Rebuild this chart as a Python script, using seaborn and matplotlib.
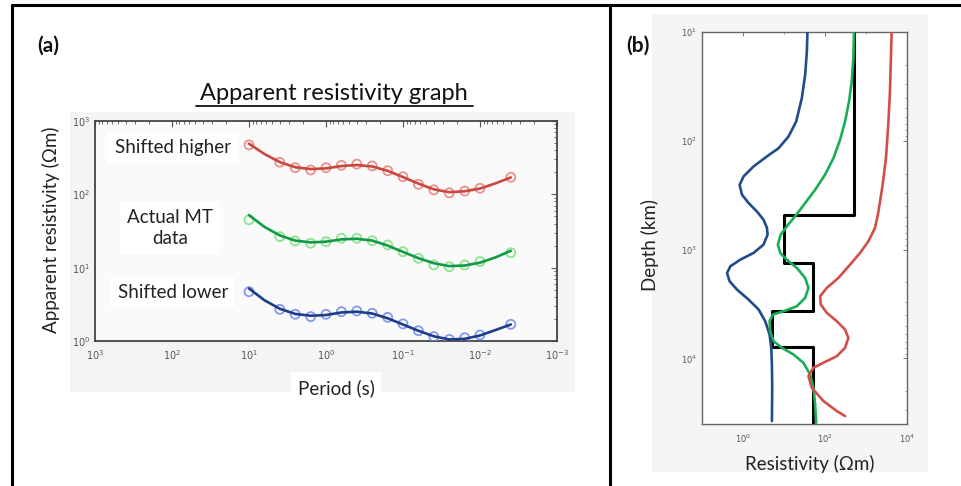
import numpy as np
import pandas as pd
import matplotlib
matplotlib.use("Agg")
import matplotlib.pyplot as plt
import seaborn as sns
from matplotlib.patches import Rectangle
from matplotlib.lines import Line2D
from matplotlib.ticker import LogLocator, NullFormatter

# ---------------- data: panel (a) apparent resistivity ----------------
period_obs = [10, 3.98, 2.51, 1.58, 1.0, 0.631, 0.398, 0.251, 0.158, 0.1,
              0.0631, 0.0398, 0.0251, 0.0158, 0.01, 0.00398]
rho_high_obs = [472, 274, 231, 215, 231, 249, 258, 244, 210, 174, 137, 115, 105, 111, 121, 171]
rho_actual_obs = [45, 26.5, 23.1, 21.5, 22.6, 25.2, 25.2, 23.3, 20.4, 16.5, 13.4, 10.9, 10.3, 10.9, 12.1, 16.0]
rho_low_obs = [4.7, 2.7, 2.31, 2.15, 2.31, 2.51, 2.57, 2.39, 2.1, 1.71, 1.38, 1.15, 1.05, 1.11, 1.21, 1.69]

period_fit = [10, 6.31, 3.98, 2.51, 1.58, 1.0, 0.631, 0.398, 0.251, 0.158, 0.1,
              0.0631, 0.0398, 0.0251, 0.0158, 0.01, 0.00631, 0.00398]
rho_high_fit = [490, 355, 275, 234, 221, 226, 243, 251, 240, 209, 172, 140, 117, 107, 110, 120, 141, 170]
rho_actual_fit = [52, 36, 27.5, 23.4, 22.1, 22.6, 24.3, 24.8, 23.4, 20, 16.4, 13.5, 11.5, 10.5, 10.7, 11.7, 13.8, 17]
rho_low_fit = [5.2, 3.6, 2.75, 2.34, 2.21, 2.26, 2.45, 2.51, 2.37, 2.04, 1.68, 1.38, 1.16, 1.05, 1.07, 1.19, 1.41, 1.68]

series_labels = ["Shifted higher", "Actual MT\ndata", "Shifted lower"]

# ---------------- data: panel (b) resistivity vs depth ----------------
model_res = [500, 10, 50, 5, 50]
model_top = [10, 480, 1320, 3700, 7900]
model_bottom = 40000

blue_depth = [10, 15.1, 24.8, 40.6, 66.5, 91.2, 117, 139, 172, 212, 254, 313, 373, 446, 531,
              631, 728, 899, 1072, 1236, 1422, 1637, 1954, 2328, 2877, 3548, 4550, 6026,
              7980, 11350, 18580, 37580]
blue_res = [37.3, 36.1, 32.8, 27.2, 19.8, 12.9, 7.36, 3.84, 1.81, 1.035, 0.826, 0.946, 1.37,
            2.19, 3.16, 3.84, 3.98, 3.16, 1.81, 0.859, 0.491, 0.408, 0.472, 0.714, 1.37, 2.40,
            3.49, 4.45, 4.89, 5.07, 5.16, 5.07]

green_depth = [10, 17.4, 28.6, 43.6, 66.5, 97.9, 145, 205, 282, 373, 478, 590, 728, 899, 1072,
               1236, 1472, 1820, 2244, 2773, 3311, 3681, 3945, 4550, 5623, 6934, 7980, 9183,
               10960, 14030, 18580, 26420, 38900]
green_res = [511, 491, 449, 385, 308, 233, 160, 100, 57.4, 32.8, 20, 12.6, 8.3, 7.1, 8.1, 11.7,
             20.6, 32.8, 39.5, 32.8, 20.6, 9.7, 5.37, 4.45, 4.61, 5.56, 8.89, 17.0, 29.8, 43.4,
             52.2, 57.4, 60.7]

red_depth = [10, 17.4, 35.3, 71.3, 144, 254, 386, 478, 632, 839, 1072, 1374, 1820, 2244, 2679,
             3199, 3811, 4550, 5420, 6471, 7980, 9528, 10940, 12160, 14520, 18580, 24600,
             30410, 33810]
red_res = [4217, 4055, 3837, 3491, 3069, 2547, 2138, 1950, 1656, 1140, 716, 408, 212, 111, 76,
           79, 111, 194, 308, 371, 308, 194, 91.4, 52.2, 39.5, 47.6, 91.4, 194, 308]

# ---------------- styling ----------------
sns.set_theme(style="white")
plt.rcParams["font.family"] = ["DejaVu Sans"]
LABEL_FONT = ["Lato", "DejaVu Sans"]

W, H = 961, 486
fig = plt.figure(figsize=(W / 100, H / 100), dpi=100)
fig.patch.set_facecolor("white")


def fx(x):
    return x / W


def fy(y):
    return 1 - y / H


# pasted-image backdrops (behind the axes)
fig.add_artist(Rectangle((fx(70), fy(392)), (575 - 70) / W, (392 - 112) / H,
                         transform=fig.transFigure, fc="#f4f4f4", ec="none", zorder=-5))
fig.add_artist(Rectangle((fx(652), fy(472)), (928 - 652) / W, (472 - 14) / H,
                         transform=fig.transFigure, fc="#f5f5f5", ec="none", zorder=-5))

# frame lines
for (x0, y0, x1, y1) in [(12, 5, 961, 5), (12, 5, 12, 486), (610, 5, 610, 486)]:
    fig.add_artist(Line2D([fx(x0), fx(x1)], [fy(y0), fy(y1)], transform=fig.transFigure,
                          color="black", lw=2.2, zorder=10))

# ---------------- panel (a) ----------------
axa = fig.add_axes([fx(95), fy(341), (557 - 95) / W, (341 - 121) / H])
axa.set_zorder(1)
axa.set_facecolor("#fafafa")

obs = pd.DataFrame({
    "period": period_obs * 3,
    "rho": rho_high_obs + rho_actual_obs + rho_low_obs,
    "series": ["high"] * len(period_obs) + ["actual"] * len(period_obs) + ["low"] * len(period_obs),
})
fit = pd.DataFrame({
    "period": period_fit * 3,
    "rho": rho_high_fit + rho_actual_fit + rho_low_fit,
    "series": ["high"] * len(period_fit) + ["actual"] * len(period_fit) + ["low"] * len(period_fit),
})
marker_pal = {"high": "#ea7f79", "actual": "#7ce07c", "low": "#7088ef"}
line_pal = {"high": "#c9473f", "actual": "#109a45", "low": "#1d3d88"}

sns.scatterplot(data=obs, x="period", y="rho", hue="series", palette=marker_pal, ax=axa,
                s=42, marker="o", linewidth=1.3, alpha=0.85, legend=False, zorder=3)
coll = axa.collections[-1]
coll.set_edgecolors(coll.get_facecolors())
coll.set_facecolors("none")

sns.lineplot(data=fit, x="period", y="rho", hue="series", palette=line_pal, ax=axa,
             lw=1.9, legend=False, estimator=None, sort=False, zorder=4)

axa.set_xscale("log")
axa.set_yscale("log")
axa.set_xlim(1e3, 1e-3)
axa.set_ylim(1, 1e3)
axa.set_xlabel("")
axa.set_ylabel("")
axa.xaxis.set_major_locator(LogLocator(base=10, numticks=10))
axa.yaxis.set_major_locator(LogLocator(base=10, numticks=10))
axa.xaxis.set_minor_locator(LogLocator(base=10, subs=np.arange(2, 10), numticks=20))
axa.yaxis.set_minor_locator(LogLocator(base=10, subs=np.arange(2, 10), numticks=20))
axa.xaxis.set_minor_formatter(NullFormatter())
axa.yaxis.set_minor_formatter(NullFormatter())
axa.tick_params(which="both", direction="in", top=True, right=True, colors="#555555",
                labelsize=7, labelcolor="#555555")
axa.tick_params(which="major", length=4, width=0.8)
axa.tick_params(which="minor", length=2, width=0.6)
axa.tick_params(axis="x", pad=5)
for sp in axa.spines.values():
    sp.set_color("#444444")
    sp.set_linewidth(1.3)

# text boxes in panel (a)
box = dict(fc="white", ec="none", pad=5)
fig.text(fx(173), fy(148), series_labels[0], ha="center", va="center", fontsize=13.5,
         family=LABEL_FONT, color="#222222", bbox=box, zorder=6)
fig.text(fx(170), fy(228), series_labels[1], ha="center", va="center", fontsize=13.5,
         family=LABEL_FONT, color="#222222", linespacing=1.35, bbox=box, zorder=6)
fig.text(fx(173), fy(292), series_labels[2], ha="center", va="center", fontsize=13.5,
         family=LABEL_FONT, color="#222222", bbox=box, zorder=6)

fig.text(fx(334), fy(94), "Apparent resistivity graph", ha="center", va="center",
         fontsize=17, family=LABEL_FONT, color="#111111", zorder=6)
fig.add_artist(Line2D([fx(196), fx(473)], [fy(106), fy(106)], transform=fig.transFigure,
                      color="#111111", lw=1.3, zorder=7))
fig.text(fx(51), fy(230), "Apparent resistivity (\u03a9m)", ha="center", va="center",
         rotation=90, fontsize=13.5, family=LABEL_FONT, color="#222222",
         bbox=dict(fc="white", ec="none", pad=2), zorder=6)
fig.text(fx(336), fy(388), "Period (s)", ha="center", va="center", fontsize=13.5,
         family=LABEL_FONT, color="#222222", bbox=dict(fc="white", ec="none", pad=5), zorder=6)
fig.text(fx(48), fy(46), "(a)", ha="center", va="center", fontsize=15, fontweight="bold",
         family=LABEL_FONT, color="#111111", zorder=6)

# ---------------- panel (b) ----------------
axb = fig.add_axes([fx(702), fy(424), (907 - 702) / W, (424 - 32) / H])
axb.set_zorder(1)
axb.set_facecolor("white")

mx, my = [], []
for i, r in enumerate(model_res):
    top = model_top[i]
    bot = model_top[i + 1] if i + 1 < len(model_top) else model_bottom
    mx += [r, r]
    my += [top, bot]
model_df = pd.DataFrame({"res": mx, "depth": my})
sns.lineplot(data=model_df, x="res", y="depth", sort=False, estimator=None, ax=axb,
             color="black", lw=2.2, zorder=3)

prof = pd.DataFrame({
    "res": blue_res + green_res + red_res,
    "depth": blue_depth + green_depth + red_depth,
    "model": ["blue"] * len(blue_res) + ["green"] * len(green_res) + ["red"] * len(red_res),
})
sns.lineplot(data=prof, x="res", y="depth", hue="model",
             palette={"blue": "#1f4c8c", "green": "#19ad55", "red": "#d24f48"},
             sort=False, estimator=None, ax=axb, lw=1.9, legend=False, zorder=4)

axb.set_xscale("log")
axb.set_yscale("log")
axb.set_xlim(0.1, 1e4)
axb.set_ylim(4e4, 10)
axb.set_xlabel("")
axb.set_ylabel("")
axb.set_xticks([1, 100, 1e4])
axb.xaxis.set_minor_locator(LogLocator(base=10, subs=[1.0], numticks=20))
axb.xaxis.set_minor_formatter(NullFormatter())
axb.yaxis.set_major_locator(LogLocator(base=10, numticks=10))
axb.yaxis.set_minor_locator(LogLocator(base=10, subs=np.arange(2, 10), numticks=20))
axb.yaxis.set_minor_formatter(NullFormatter())
axb.tick_params(which="both", direction="in", top=True, right=True, colors="#777777",
                labelsize=6, labelcolor="#555555")
axb.tick_params(which="major", length=3, width=0.7)
axb.tick_params(which="minor", length=1.5, width=0.5)
axb.tick_params(axis="x", pad=6)
for sp in axb.spines.values():
    sp.set_color("#666666")
    sp.set_linewidth(1.0)

fig.text(fx(650), fy(245), "Depth (km)", ha="center", va="center", rotation=90,
         fontsize=13.5, family=LABEL_FONT, color="#222222", zorder=6)
fig.text(fx(810), fy(464), "Resistivity (\u03a9m)", ha="center", va="center",
         fontsize=13.5, family=LABEL_FONT, color="#222222", zorder=6)
fig.text(fx(638), fy(46), "(b)", ha="center", va="center", fontsize=15, fontweight="bold",
         family=LABEL_FONT, color="#111111", zorder=6)

fig.savefig("out.png", dpi=100, facecolor="white")
